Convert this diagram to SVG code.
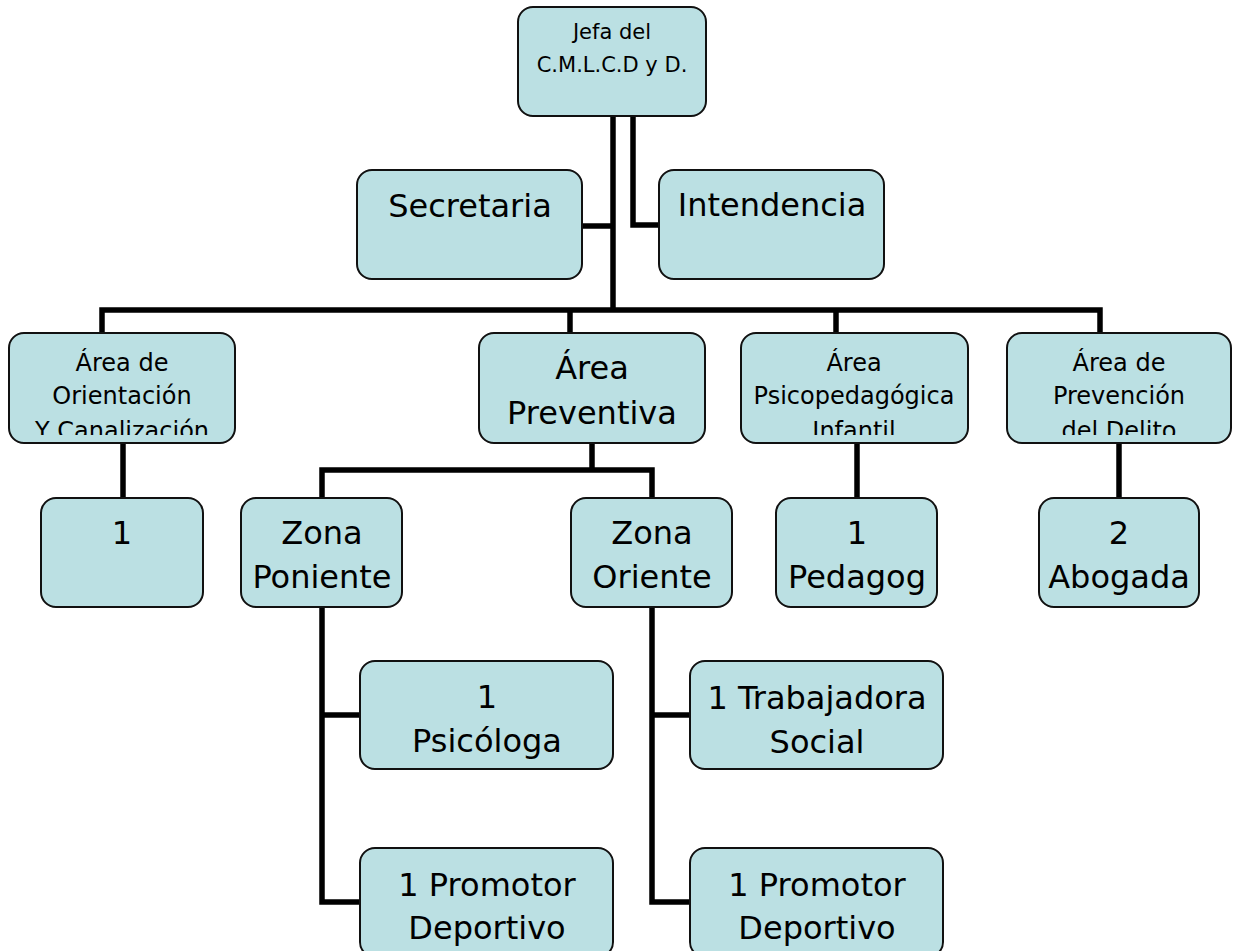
<svg xmlns="http://www.w3.org/2000/svg" width="1233" height="951" viewBox="0 0 1233 951">
<style>
.box{fill:#BBE0E3;stroke:#111;stroke-width:2}
.c{fill:none;stroke:#000;stroke-width:5.5;stroke-linecap:butt;stroke-linejoin:miter}
text{font-family:"DejaVu Sans",sans-serif;fill:#000;text-anchor:middle}
.s{font-size:21px}
.m{font-size:24px}
.l{font-size:32px}
</style>
<defs>
<clipPath id="clipOr"><rect x="0" y="330" width="250" height="105"/></clipPath>
<clipPath id="clipPs"><rect x="730" y="330" width="250" height="105"/></clipPath>
<clipPath id="clipPr"><rect x="1000" y="330" width="233" height="105"/></clipPath>
</defs>
<rect width="1233" height="951" fill="#fff"/>
<g id="connectors">
<path class="c" d="M613,116 V310"/>
<path class="c" d="M582,226 H613"/>
<path class="c" d="M633,116 V225 H659"/>
<path class="c" d="M102,334 V310 H1100 V334"/>
<path class="c" d="M570,310 V334"/>
<path class="c" d="M836,310 V334"/>
<path class="c" d="M123,443 V498"/>
<path class="c" d="M592,443 V470"/>
<path class="c" d="M322,498 V470 H652 V498"/>
<path class="c" d="M857,443 V498"/>
<path class="c" d="M1119,443 V498"/>
<path class="c" d="M322,607 V902 H360"/>
<path class="c" d="M322,715 H360"/>
<path class="c" d="M652,607 V902 H690"/>
<path class="c" d="M652,715 H690"/>
</g>
<g id="jefa">
<rect class="box" x="518" y="7" width="188" height="109" rx="15"/>
<text class="s" x="612" y="39">Jefa del</text>
<text class="s" x="612" y="72">C.M.L.C.D y D.</text>
</g>
<g id="secretaria">
<rect class="box" x="357" y="170" width="225" height="109" rx="15"/>
<text class="l" x="470" y="217">Secretaria</text>
</g>
<g id="intendencia">
<rect class="box" x="659" y="170" width="225" height="109" rx="15"/>
<text class="l" x="772" y="216">Intendencia</text>
</g>
<g id="area-orientacion">
<rect class="box" x="9" y="333" width="226" height="110" rx="15"/>
<g clip-path="url(#clipOr)">
<text class="m" x="122" y="371">Área de</text>
<text class="m" x="122" y="404">Orientación</text>
<text class="m" x="122" y="439">Y Canalización</text>
</g>
</g>
<g id="area-preventiva">
<rect class="box" x="479" y="333" width="226" height="110" rx="15"/>
<text class="l" x="592" y="379">Área</text>
<text class="l" x="592" y="424">Preventiva</text>
</g>
<g id="area-psicopedagogica">
<rect class="box" x="741" y="333" width="227" height="110" rx="15"/>
<g clip-path="url(#clipPs)">
<text class="m" x="854" y="371">Área</text>
<text class="m" x="854" y="404">Psicopedagógica</text>
<text class="m" x="854" y="439">Infantil</text>
</g>
</g>
<g id="area-prevencion">
<rect class="box" x="1007" y="333" width="224" height="110" rx="15"/>
<g clip-path="url(#clipPr)">
<text class="m" x="1119" y="371">Área de</text>
<text class="m" x="1119" y="404">Prevención</text>
<text class="m" x="1119" y="439">del Delito</text>
</g>
</g>
<g id="uno-orientacion">
<rect class="box" x="41" y="498" width="162" height="109" rx="15"/>
<text class="l" x="122" y="544">1</text>
</g>
<g id="zona-poniente">
<rect class="box" x="241" y="498" width="161" height="109" rx="15"/>
<text class="l" x="322" y="544">Zona</text>
<text class="l" x="322" y="588">Poniente</text>
</g>
<g id="zona-oriente">
<rect class="box" x="571" y="498" width="161" height="109" rx="15"/>
<text class="l" x="652" y="544">Zona</text>
<text class="l" x="652" y="588">Oriente</text>
</g>
<g id="pedagog">
<rect class="box" x="776" y="498" width="161" height="109" rx="15"/>
<text class="l" x="857" y="544">1</text>
<text class="l" x="857" y="588">Pedagog</text>
</g>
<g id="abogada">
<rect class="box" x="1039" y="498" width="160" height="109" rx="15"/>
<text class="l" x="1119" y="544">2</text>
<text class="l" x="1119" y="588">Abogada</text>
</g>
<g id="psicologa">
<rect class="box" x="360" y="661" width="253" height="108" rx="15"/>
<text class="l" x="487" y="708">1</text>
<text class="l" x="487" y="752">Psicóloga</text>
</g>
<g id="promotor-poniente">
<rect class="box" x="360" y="848" width="253" height="109" rx="15"/>
<text class="l" x="487" y="896">1 Promotor</text>
<text class="l" x="487" y="939">Deportivo</text>
</g>
<g id="trabajadora-social">
<rect class="box" x="690" y="661" width="253" height="108" rx="15"/>
<text class="l" x="817" y="709">1 Trabajadora</text>
<text class="l" x="817" y="753">Social</text>
</g>
<g id="promotor-oriente">
<rect class="box" x="690" y="848" width="253" height="109" rx="15"/>
<text class="l" x="817" y="896">1 Promotor</text>
<text class="l" x="817" y="939">Deportivo</text>
</g>
</svg>
